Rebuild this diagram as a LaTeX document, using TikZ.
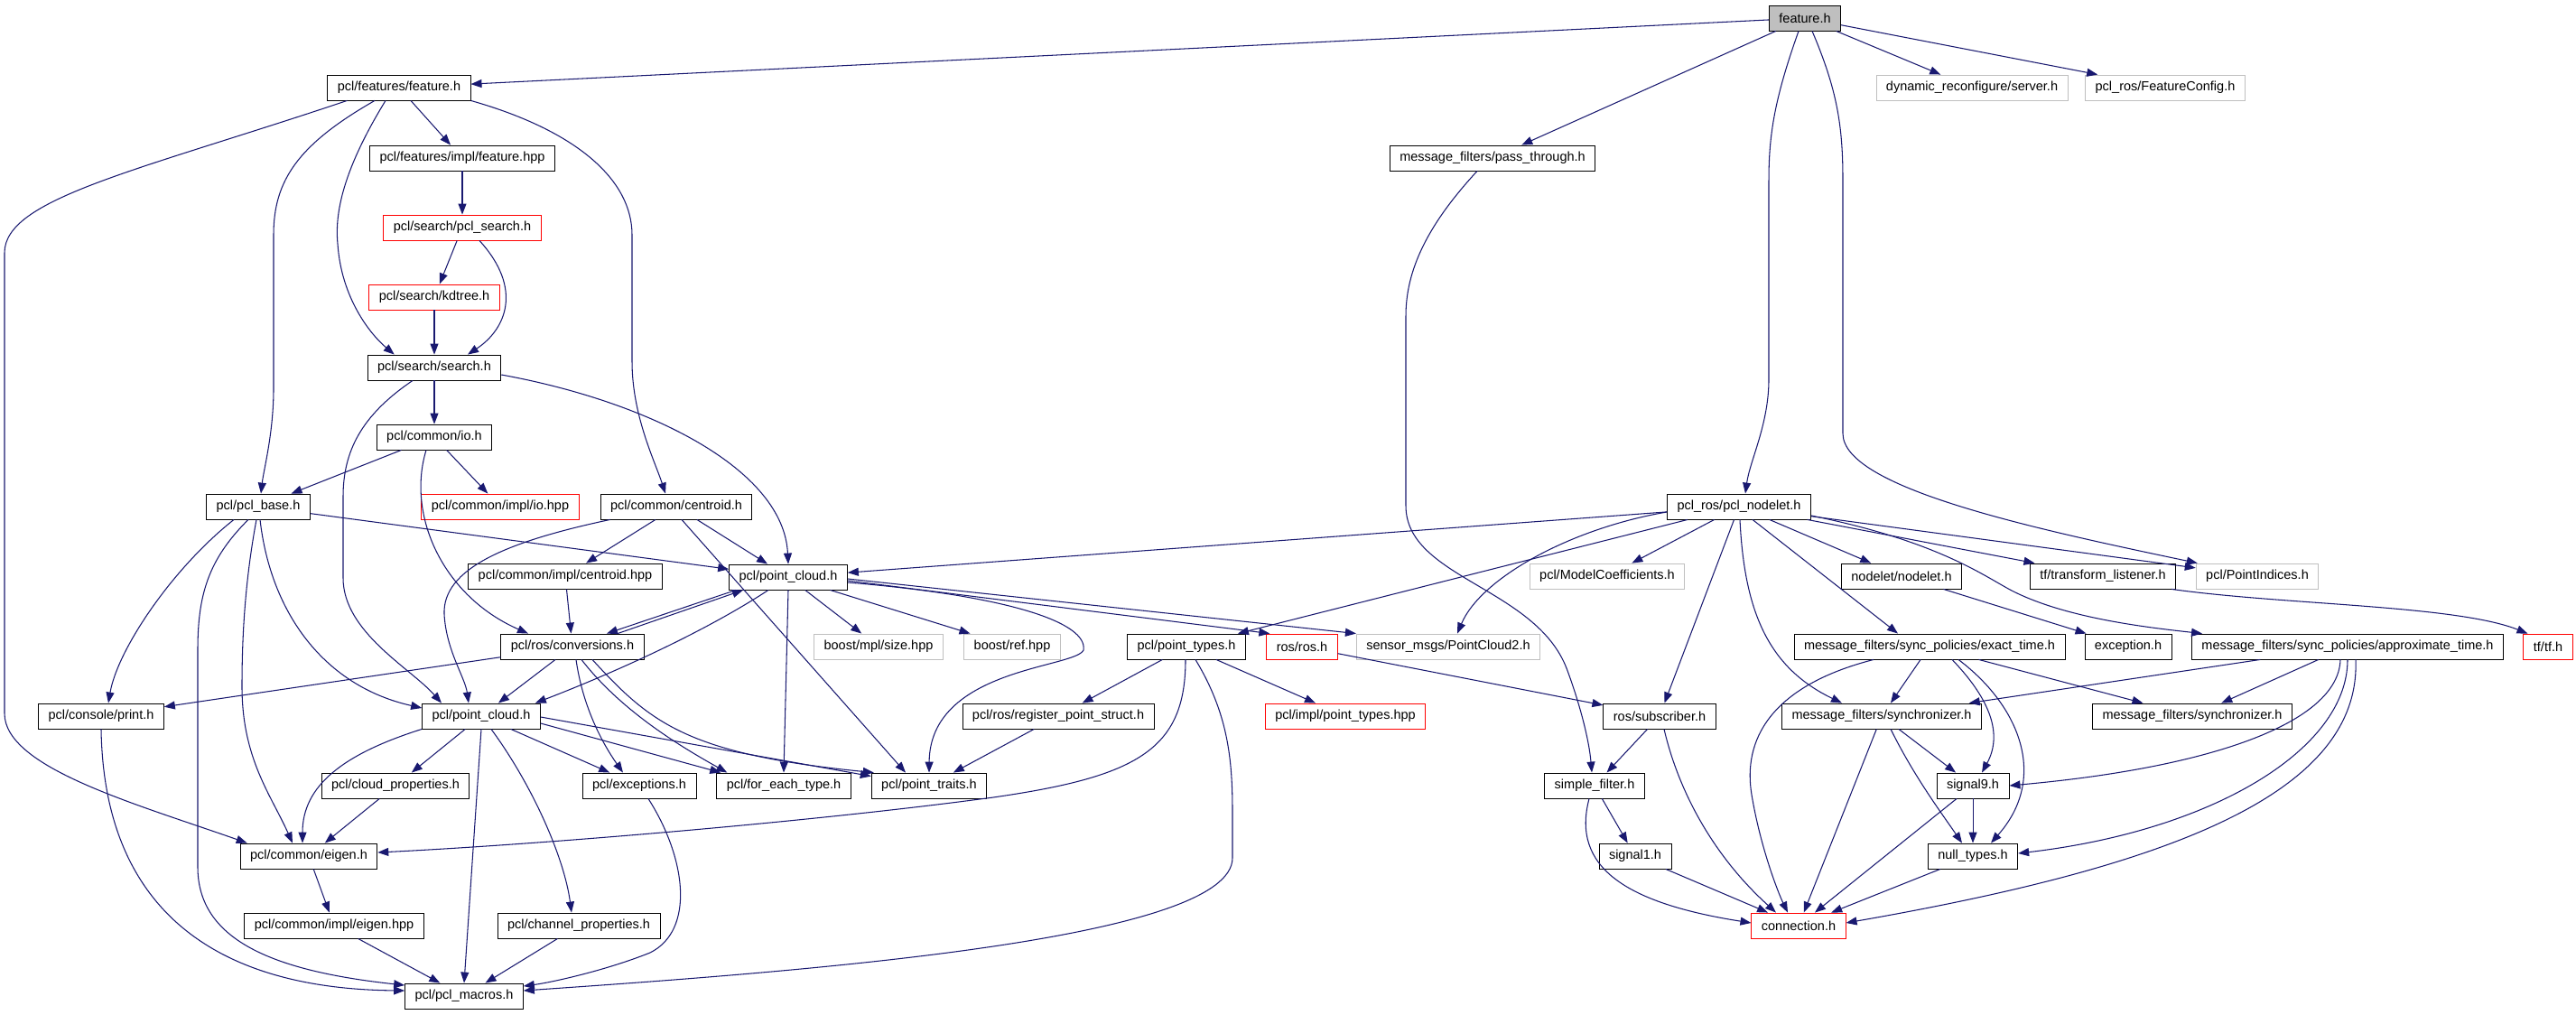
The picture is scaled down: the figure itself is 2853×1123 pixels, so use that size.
\documentclass[tikz,border=0pt]{standalone}
\usepackage{fontspec}
\setmainfont{Liberation Sans}
\usetikzlibrary{arrows.meta, calc}
\definecolor{edgeblue}{RGB}{25,25,112}

\begin{document}
\begin{tikzpicture}[
    x=0.02cm, y=-0.02cm,
    font=\fontsize{8.25}{10}\selectfont,
    hfile/.style={
        rectangle, draw=black, line width=0.5pt, fill=white,
        minimum height=0.56cm, inner xsep=0.22cm, inner ysep=0pt
    },
    trunc/.style={hfile, draw=red},
    extfile/.style={hfile, draw=black!25},
    rootfile/.style={hfile, fill=black!25},
    arr/.style={-{Triangle[length=0.24cm, width=0.18cm]}, draw=edgeblue, line width=0.6pt}
]
\useasboundingbox[fill=white] (0,0) rectangle (2853,1123);

% ---------------- Nodes ----------------
\node[rootfile] (feat) at (1999,20) {feature.h};

\node[hfile] (pclfeat) at (442,97) {pcl/features/feature.h};
\node[extfile] (dynsrv) at (2184,97) {dynamic\_reconfigure/server.h};
\node[extfile] (fcfg) at (2398,97) {pcl\_ros/FeatureConfig.h};

\node[hfile] (feathpp) at (512,175) {pcl/features/impl/feature.hpp};
\node[hfile] (passthr) at (1653,175) {message\_filters/pass\_through.h};

\node[trunc] (pclsearch) at (512,252) {pcl/search/pcl\_search.h};
\node[trunc] (kdtree) at (481,329) {pcl/search/kdtree.h};
\node[hfile] (search) at (481,407) {pcl/search/search.h};
\node[hfile] (io) at (481,484) {pcl/common/io.h};

\node[hfile] (pclbase) at (286,561) {pcl/pcl\_base.h};
\node[trunc] (iohpp) at (554,561) {pcl/common/impl/io.hpp};
\node[hfile] (centroid) at (749,561) {pcl/common/centroid.h};
\node[hfile] (nodelet) at (1926,561) {pcl\_ros/pcl\_nodelet.h};

\node[hfile] (centhpp) at (626,638) {pcl/common/impl/centroid.hpp};
\node[hfile] (pcloudA) at (873,639) {pcl/point\_cloud.h};
\node[extfile] (modcoef) at (1780,638) {pcl/ModelCoefficients.h};
\node[hfile] (ndlet) at (2106,638) {nodelet/nodelet.h};
\node[hfile] (tflist) at (2329,638) {tf/transform\_listener.h};
\node[extfile] (ptidx) at (2500,638) {pcl/PointIndices.h};

\node[hfile] (conv) at (634,716) {pcl/ros/conversions.h};
\node[extfile] (mplsize) at (973,716) {boost/mpl/size.hpp};
\node[extfile] (bref) at (1121,716) {boost/ref.hpp};
\node[hfile] (pttypes) at (1314,716) {pcl/point\_types.h};
\node[trunc] (rosh) at (1442,716) {ros/ros.h};
\node[extfile] (pc2) at (1604,716) {sensor\_msgs/PointCloud2.h};
\node[hfile] (exact) at (2137,716) {message\_filters/sync\_policies/exact\_time.h};
\node[hfile] (exc) at (2357,716) {exception.h};
\node[hfile] (approx) at (2600,716) {message\_filters/sync\_policies/approximate\_time.h};
\node[trunc] (tfh) at (2822,716) {tf/tf.h};

\node[hfile] (print) at (112,793) {pcl/console/print.h};
\node[hfile] (pcloudB) at (533,793) {pcl/point\_cloud.h};
\node[hfile] (regpt) at (1172,793) {pcl/ros/register\_point\_struct.h};
\node[trunc] (pthpp) at (1490,793) {pcl/impl/point\_types.hpp};
\node[hfile] (subs) at (1838,793) {ros/subscriber.h};
\node[hfile] (syncA) at (2084,793) {message\_filters/synchronizer.h};
\node[hfile] (syncB) at (2428,793) {message\_filters/synchronizer.h};

\node[hfile] (cloudprop) at (438,870) {pcl/cloud\_properties.h};
\node[hfile] (excs) at (708,870) {pcl/exceptions.h};
\node[hfile] (foreach) at (868,870) {pcl/for\_each\_type.h};
\node[hfile] (ptraits) at (1029,870) {pcl/point\_traits.h};
\node[hfile] (sfilt) at (1766,870) {simple\_filter.h};
\node[hfile] (sig9) at (2185,870) {signal9.h};

\node[hfile] (eigen) at (342,948) {pcl/common/eigen.h};
\node[hfile] (sig1) at (1811,948) {signal1.h};
\node[hfile] (nullt) at (2185,948) {null\_types.h};

\node[hfile] (eighpp) at (370,1025) {pcl/common/impl/eigen.hpp};
\node[hfile] (chprop) at (641,1025) {pcl/channel\_properties.h};
\node[trunc] (conn) at (1992,1025) {connection.h};

\node[hfile] (macros) at (514,1103) {pcl/pcl\_macros.h};

% ---------------- feature.h ----------------
\draw[arr] (feat) -- (pclfeat);
\draw[arr] (feat) -- (passthr);
\draw[arr] (feat) -- (dynsrv);
\draw[arr] (feat) -- (fcfg);
\draw[arr] ($(feat.south)+(-7,0)$) .. controls (1965,110) and (1959,150) .. (1959,200) -- (1959,420) .. controls (1959,470) and (1938,510) .. ($(nodelet.north)+(7,0)$);
\draw[arr] ($(feat.south)+(8,0)$) .. controls (2035,100) and (2041,140) .. (2041,200) -- (2041,480) .. controls (2041,540) and (2250,585) .. ($(ptidx.north west)+(2,0)$);

% ---------------- pcl/features/feature.h ----------------
\draw[arr] (pclfeat) -- (feathpp);
\draw[arr] ($(pclfeat.south west)+(22,0)$) .. controls (150,190) and (5,220) .. (5,280) -- (5,790) .. controls (5,850) and (150,890) .. ($(eigen.north west)+(8,0)$);
\draw[arr] ($(pclfeat.south)+(-27,0)$) .. controls (330,160) and (303,200) .. (303,260) -- (303,430) .. controls (303,480) and (292,520) .. ($(pclbase.north)+(3,0)$);
\draw[arr] ($(pclfeat.south)+(-15,0)$) .. controls (385,180) and (370,230) .. (374,270) .. controls (378,330) and (410,370) .. ($(search.north west)+(30,0)$);
\draw[arr] (pclfeat.south east) .. controls (640,145) and (700,200) .. (700,260) -- (700,400) .. controls (700,460) and (725,510) .. ($(centroid.north)+(-12,0)$);

% ---------------- search ----------------
\draw[arr] (feathpp) -- (pclsearch);
\draw[arr] (pclsearch) -- (kdtree);
\draw[arr] ($(pclsearch.south)+(19,0)$) .. controls (580,320) and (560,365) .. ($(search.north)+(37,0)$);
\draw[arr] (kdtree) -- (search);
\draw[arr] (search) -- (io);
\draw[arr] ($(search.south)+(-24,0)$) .. controls (400,460) and (380,500) .. (380,550) -- (380,640) .. controls (380,700) and (455,740) .. ($(pcloudB.north)+(-44,0)$);
\draw[arr] ($(search.east)+(0,8)$) .. controls (720,445) and (868,520) .. (pcloudA.north);

% ---------------- io.h, pcl_base.h ----------------
\draw[arr] (io) -- (pclbase);
\draw[arr] (io) -- (iohpp);
\draw[arr] ($(io.south)+(-9,0)$) .. controls (450,570) and (490,660) .. ($(conv.north)+(-49,0)$);
\draw[arr] (pclbase) -- (pcloudA);
\draw[arr] ($(pclbase.south)+(-27,0)$) .. controls (190,630) and (130,720) .. ($(print.north)+(8,0)$);
\draw[arr] ($(pclbase.south)+(-11,0)$) .. controls (230,620) and (219,660) .. (219,720) -- (219,960) .. controls (219,1040) and (300,1075) .. ($(macros.west)+(0,-12)$);
\draw[arr] ($(pclbase.south)+(-2,0)$) .. controls (272,640) and (268,700) .. (268,760) .. controls (268,840) and (300,880) .. ($(eigen.north)+(-18,0)$);
\draw[arr] ($(pclbase.south)+(2,0)$) .. controls (300,680) and (360,760) .. ($(pcloudB.west)+(0,-9)$);

% ---------------- centroid ----------------
\draw[arr] (centroid) -- (centhpp);
\draw[arr] (centroid) -- (pcloudA);
\draw[arr] ($(centroid.south west)+(11,0)$) .. controls (560,600) and (490,630) .. (492,680) .. controls (494,720) and (515,750) .. ($(pcloudB.north)+(-14,0)$);
\draw[arr] ($(centroid.south)+(6,0)$) -- ($(ptraits.north)+(-26,0)$);
\draw[arr] (centhpp) -- (conv);

% ---------------- point_cloud.h (upper) ----------------
\draw[arr] ($(conv.north)+(50,0)$) -- ($(pcloudA.south)+(-50,0)$);
\draw[arr] ($(pcloudA.south)+(-58,0)$) -- ($(conv.north)+(38,0)$);
\draw[arr] ($(pcloudA.south)+(-22,0)$) .. controls (780,700) and (680,745) .. ($(pcloudB.north east)+(-6,0)$);
\draw[arr] (pcloudA.south) -- (foreach.north);
\draw[arr] (pcloudA) -- (mplsize);
\draw[arr] (pcloudA) -- (bref);
\draw[arr] ($(pcloudA.east)+(0,6)$) .. controls (1120,660) and (1205,690) .. (1200,720) .. controls (1190,740) and (1030,740) .. (ptraits.north);
\draw[arr] ($(pcloudA.east)+(0,4)$) -- ($(rosh.north west)+(4,0)$);
\draw[arr] ($(pcloudA.east)+(0,2)$) -- (pc2.north west);

% ---------------- conversions.h ----------------
\draw[arr] (conv) -- (print);
\draw[arr] (conv) -- (pcloudB);
\draw[arr] ($(conv.south)+(4,0)$) .. controls (645,780) and (665,820) .. ($(excs.north)+(-18,0)$);
\draw[arr] ($(conv.south)+(10,0)$) .. controls (690,790) and (760,830) .. ($(foreach.north west)+(12,0)$);
\draw[arr] ($(conv.south)+(22,0)$) .. controls (720,800) and (760,835) .. ($(ptraits.north west)+(3,0)$);

% ---------------- point_cloud.h (lower) ----------------
\draw[arr] (pcloudB.south) -- (macros.north);
\draw[arr] (pcloudB.south west) .. controls (380,835) and (335,870) .. ($(eigen.north)+(-7,0)$);
\draw[arr] (pcloudB) -- (cloudprop);
\draw[arr] ($(pcloudB.south)+(11,0)$) .. controls (590,870) and (625,950) .. ($(chprop.north)+(-8,0)$);
\draw[arr] (pcloudB) -- (excs);
\draw[arr] ($(pcloudB.east)+(0,8)$) -- ($(foreach.north west)+(5,0)$);
\draw[arr] ($(pcloudB.east)+(0,1)$) -- ($(ptraits.north west)+(0,4)$);

% ---------------- eigen, macros ----------------
\draw[arr] (cloudprop) -- (eigen);
\draw[arr] (eigen) -- (eighpp);
\draw[arr] (eighpp) -- (macros);
\draw[arr] (chprop) -- (macros);
\draw[arr] ($(excs.south)+(10,0)$) .. controls (760,950) and (770,1030) .. (720,1055) .. controls (670,1075) and (610,1088) .. ($(macros.east)+(0,-11)$);
\draw[arr] (print.south) .. controls (115,1000) and (230,1095) .. ($(macros.west)+(0,-6)$);

% ---------------- point_types.h ----------------
\draw[arr] (pttypes) -- (regpt);
\draw[arr] (pttypes) -- (pthpp);
\draw[arr] ($(pttypes.south)+(-1,0)$) .. controls (1313,830) and (1260,860) .. (1100,883) .. controls (900,910) and (600,935) .. ($(eigen.east)+(0,-4)$);
\draw[arr] ($(pttypes.south)+(10,0)$) .. controls (1360,790) and (1365,840) .. (1365,900) -- (1365,950) .. controls (1365,1040) and (900,1075) .. ($(macros.east)+(0,-6)$);
\draw[arr] (regpt) -- (ptraits);

% ---------------- ros, pass_through ----------------
\draw[arr] (rosh) -- (subs);
\draw[arr] ($(passthr.south)+(-17,0)$) .. controls (1580,250) and (1557,300) .. (1557,350) -- (1557,560) .. controls (1557,640) and (1700,650) .. (1735,740) .. controls (1750,780) and (1760,820) .. ($(sfilt.north)+(-3,0)$);

% ---------------- pcl_nodelet.h ----------------
\draw[arr] (nodelet) -- (pcloudA);
\draw[arr] (nodelet) -- (pttypes);
\draw[arr] ($(nodelet.west)+(0,6)$) .. controls (1740,585) and (1640,640) .. ($(pc2.north)+(10,0)$);
\draw[arr] (nodelet) -- (modcoef);
\draw[arr] (nodelet) -- (subs);
\draw[arr] ($(nodelet.south)+(1,0)$) .. controls (1932,680) and (1960,740) .. ($(syncA.north)+(-44,0)$);
\draw[arr] ($(nodelet.south)+(15,0)$) -- ($(exact.north)+(-35,0)$);
\draw[arr] (nodelet) -- (ndlet);
\draw[arr] (nodelet) -- (tflist);
\draw[arr] (nodelet) -- (ptidx);
\draw[arr] ($(nodelet.east)+(0,10)$) .. controls (2150,600) and (2200,640) .. (2230,655) .. controls (2290,685) and (2380,695) .. ($(approx.north west)+(12,0)$);
\draw[arr] (ndlet) -- (exc);
\draw[arr] ($(tflist.south east)+(-5,0)$) .. controls (2530,670) and (2720,670) .. ($(tfh.north west)+(5,0)$);

% ---------------- sync policies ----------------
\draw[arr] (exact) -- (syncA);
\draw[arr] ($(exact.south)+(25,0)$) .. controls (2200,770) and (2220,810) .. ($(sig9.north)+(10,0)$);
\draw[arr] ($(exact.south)+(32,0)$) .. controls (2235,780) and (2270,860) .. ($(nullt.north)+(20,0)$);
\draw[arr] (exact) -- (syncB);
\draw[arr] ($(exact.south)+(-62,0)$) .. controls (1960,760) and (1930,820) .. (1940,880) .. controls (1950,940) and (1970,990) .. ($(conn.north)+(-12,0)$);
\draw[arr] (approx) -- (syncA);
\draw[arr] (approx) -- (syncB);
\draw[arr] ($(approx.south)+(-8,0)$) .. controls (2590,800) and (2450,850) .. (sig9.east);
\draw[arr] (approx.south) .. controls (2600,830) and (2450,920) .. ($(nullt.east)+(0,-3)$);
\draw[arr] ($(approx.south)+(9,0)$) .. controls (2615,880) and (2400,960) .. ($(conn.east)+(0,-3)$);

% ---------------- signals, connection ----------------
\draw[arr] (syncA) -- (sig9);
\draw[arr] ($(syncA.south)+(10,0)$) .. controls (2120,860) and (2150,900) .. ($(nullt.north)+(-12,0)$);
\draw[arr] (syncA) -- (conn);
\draw[arr] (sig9) -- (nullt);
\draw[arr] (sig9) -- (conn);
\draw[arr] (nullt) -- (conn);
\draw[arr] (subs) -- (sfilt);
\draw[arr] ($(subs.south)+(5,0)$) .. controls (1860,880) and (1900,950) .. ($(conn.north)+(-25,0)$);
\draw[arr] (sfilt) -- (sig1);
\draw[arr] ($(sfilt.south)+(-6,0)$) .. controls (1740,960) and (1800,1000) .. ($(conn.west)+(0,-3)$);
\draw[arr] (sig1) -- (conn);

\end{tikzpicture}
\end{document}
